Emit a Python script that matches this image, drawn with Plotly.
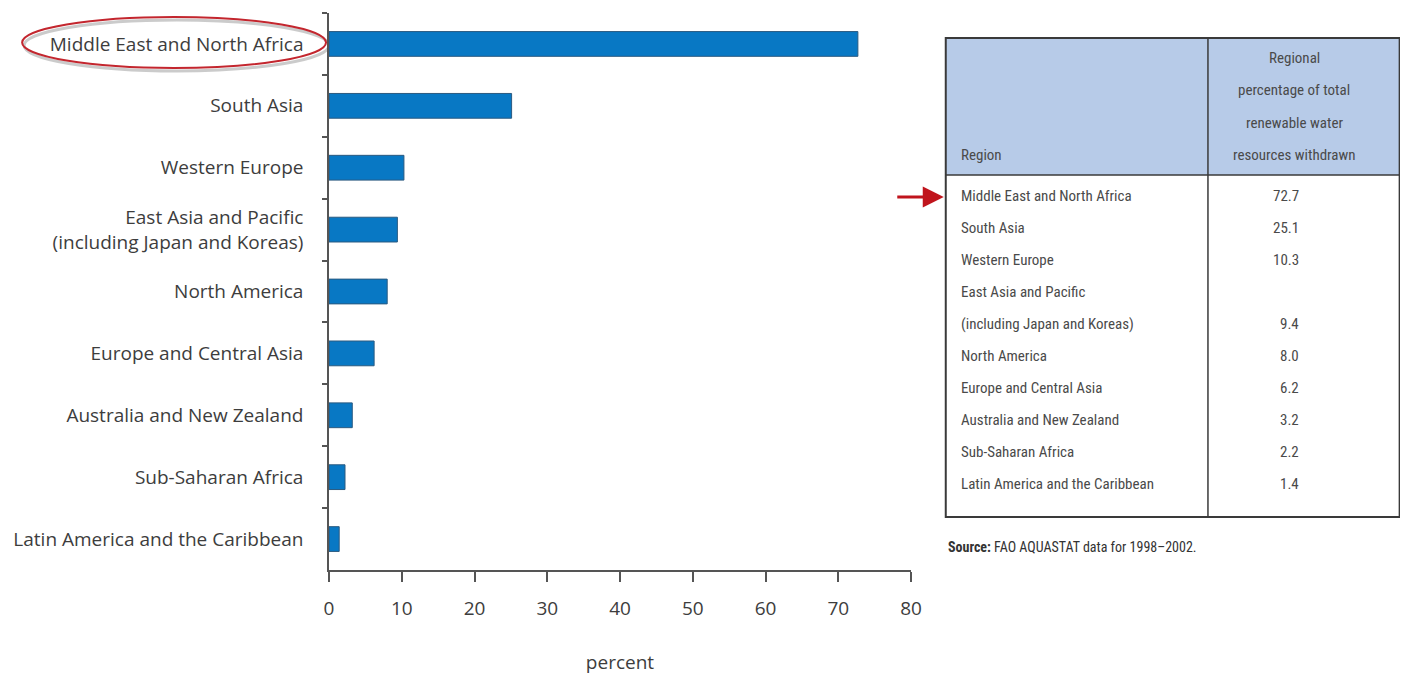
import plotly.graph_objects as go

# ---- data ----
regions = [
    "Middle East and North Africa",
    "South Asia",
    "Western Europe",
    "East Asia and Pacific<br>(including Japan and Koreas)",
    "North America",
    "Europe and Central Asia",
    "Australia and New Zealand",
    "Sub-Saharan Africa",
    "Latin America and the Caribbean",
]
values = [72.7, 25.1, 10.3, 9.4, 8.0, 6.2, 3.2, 2.2, 1.4]
x_ticks = [0, 10, 20, 30, 40, 50, 60, 70, 80]
header_region = "Region"
header_value_lines = ["Regional", "percentage of total", "renewable water", "resources withdrawn"]
source_bold = "Source:"
source_text = " FAO AQUASTAT data for 1998–2002."
axis_title = "percent"

OFF = 8  # default page body margin
W, H = 1408, 678
L, R, T, B = 325, 911, 13, 570  # plot area in page px


def px(p):
    return (p - L) / (R - L)


def py(p):
    return (B - p) / (B - T)


TXT = "#3d3d3d"
TTXT = "#4a4a4a"
NARROW = "Roboto Condensed, Liberation Sans Narrow, DejaVu Sans Condensed, Roboto, sans-serif"
CHART_FONT = "Open Sans, Noto Sans, sans-serif"

fig = go.Figure()
fig.add_trace(go.Bar(
    x=values, y=regions, orientation="h", width=0.4,
    marker=dict(color="#0878c4", line=dict(color="#2a5a80", width=1)),
    hoverinfo="x+y",
))

fig.update_layout(
    width=W, height=H,
    margin=dict(l=L - OFF, r=W - (R - OFF), t=T - OFF, b=H - (B - OFF), pad=0),
    paper_bgcolor="white", plot_bgcolor="white",
    showlegend=False,
    font=dict(family=CHART_FONT, color=TXT, size=19),
    xaxis=dict(
        range=[0, 80], tickvals=x_ticks, ticks="outside", ticklen=10, tickwidth=1.5,
        tickcolor="#555", showline=True, linecolor="#555", linewidth=1.5,
        showgrid=False, zeroline=False, tickfont=dict(size=19, color=TXT),
        ticklabelstandoff=10,
        title=dict(text=axis_title, standoff=36, font=dict(size=19, color=TXT)),
    ),
    yaxis=dict(
        categoryorder="array", categoryarray=regions, autorange="reversed",
        tickson="boundaries", ticks="outside", ticklen=5, tickwidth=1.5,
        tickcolor="#555", showline=True, linecolor="#555", linewidth=1.5,
        showgrid=False, zeroline=False, tickfont=dict(size=19, color=TXT),
        ticklabelstandoff=20,
    ),
)

shapes = []
ann = []

# highlight ellipse around first label (shadow + red)
shapes.append(dict(type="circle", xref="paper", yref="paper",
                   x0=px(18), x1=px(325), y0=py(71), y1=py(20),
                   line=dict(color="rgba(140,140,140,0.45)", width=3), layer="below"))
shapes.append(dict(type="circle", xref="paper", yref="paper",
                   x0=px(16), x1=px(322), y0=py(68), y1=py(17),
                   line=dict(color="#c3262e", width=2)))

# table geometry
TX0, TX1, TXM = 946, 1403, 1210
TY0, TYH, TY1 = 38, 175, 517
shapes.append(dict(type="rect", xref="paper", yref="paper",
                   x0=px(TX0), x1=px(TX1), y0=py(TYH), y1=py(TY0),
                   fillcolor="#b7cbe8", line=dict(width=0), layer="below"))
shapes.append(dict(type="rect", xref="paper", yref="paper",
                   x0=px(TX0), x1=px(TX1), y0=py(TY1), y1=py(TY0),
                   line=dict(color="#3a3a3a", width=2)))
shapes.append(dict(type="line", xref="paper", yref="paper",
                   x0=px(TX0), x1=px(TX1), y0=py(TYH), y1=py(TYH),
                   line=dict(color="#3a3a3a", width=1.5)))
shapes.append(dict(type="line", xref="paper", yref="paper",
                   x0=px(TXM), x1=px(TXM), y0=py(TY0), y1=py(TY1),
                   line=dict(color="#3a3a3a", width=1.5)))

TFS = 15
ann.append(dict(xref="paper", yref="paper", x=px(959), y=py(155), text=header_region,
                xanchor="left", yanchor="middle", showarrow=False,
                font=dict(family=NARROW, size=TFS, color=TTXT)))
for i, line in enumerate(header_value_lines):
    ann.append(dict(xref="paper", yref="paper", x=px(1297), y=py(58 + 32.3 * i), text=line,
                    xanchor="center", yanchor="middle", showarrow=False,
                    font=dict(family=NARROW, size=TFS, color=TTXT)))

row = 0
for name, v in zip(regions, values):
    parts = name.split("<br>")
    for j, part in enumerate(parts):
        yy = py(196 + 32 * row)
        ann.append(dict(xref="paper", yref="paper", x=px(959), y=yy, text=part,
                        xanchor="left", yanchor="middle", showarrow=False,
                        font=dict(family=NARROW, size=TFS, color=TTXT)))
        if j == len(parts) - 1:
            ann.append(dict(xref="paper", yref="paper", x=px(1304), y=yy, text=f"{v:.1f}",
                            xanchor="right", yanchor="middle", showarrow=False,
                            font=dict(family=NARROW, size=TFS, color=TTXT)))
        row += 1

# red arrow pointing at the first table row
ann.append(dict(xref="paper", yref="paper", x=px(944), y=py(197), text="",
                showarrow=True, ax=-48, ay=0, arrowcolor="#c0141c", arrowwidth=3,
                arrowhead=2, arrowsize=1.4))

# source note
ann.append(dict(xref="paper", yref="paper", x=px(946), y=py(547),
                text=f"<b>{source_bold}</b>{source_text}",
                xanchor="left", yanchor="middle", showarrow=False,
                font=dict(family=NARROW, size=14, color="#333")))

fig.update_layout(shapes=shapes, annotations=ann)
fig.write_html("out.html", config={"displayModeBar": False})
